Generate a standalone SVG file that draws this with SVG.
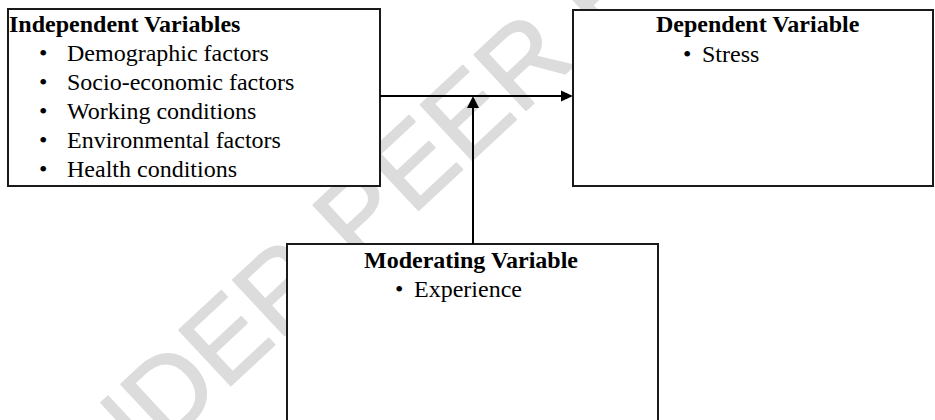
<svg xmlns="http://www.w3.org/2000/svg" width="935" height="420" viewBox="0 0 935 420">
<style>
.box{fill:#fff;stroke:#1a1a1a;stroke-width:2}
.h{font-family:"Liberation Serif","Times New Roman",serif;font-size:24px;font-weight:bold;fill:#000}
.t{font-family:"Liberation Serif","Times New Roman",serif;font-size:24px;fill:#000}
.wm{font-family:"Liberation Sans",Arial,sans-serif;font-size:110px;fill:#dcdcdc;stroke:#dcdcdc;stroke-width:2;stroke-linejoin:round}
.ln{stroke:#000;stroke-width:2;fill:none}
.ah{fill:#000}
</style>
<rect width="935" height="420" fill="#fff"/>
<text class="wm" transform="translate(50,554) rotate(-43)">UNDER PEER REVIEW</text>
<g id="independent">
<rect class="box" x="8" y="9" width="372" height="177"/>
<text class="h" x="9" y="32">Independent Variables</text>
<text class="t" x="39" y="61">•</text><text class="t" x="67" y="61">Demographic factors</text>
<text class="t" x="39" y="90">•</text><text class="t" x="67" y="90">Socio-economic factors</text>
<text class="t" x="39" y="119">•</text><text class="t" x="67" y="119">Working conditions</text>
<text class="t" x="39" y="148">•</text><text class="t" x="67" y="148">Environmental factors</text>
<text class="t" x="39" y="177">•</text><text class="t" x="67" y="177">Health conditions</text>
</g>
<g id="dependent">
<rect class="box" x="573" y="10" width="360" height="176"/>
<text class="h" x="656" y="32">Dependent Variable</text>
<text class="t" x="683" y="62">•</text><text class="t" x="702" y="62">Stress</text>
</g>
<g id="moderating">
<rect class="box" x="287" y="244" width="371" height="200"/>
<text class="h" x="471" y="268" text-anchor="middle">Moderating Variable</text>
<text class="t" x="395" y="297">•</text><text class="t" x="414" y="297">Experience</text>
</g>
<g id="connectors">
<line class="ln" x1="380" y1="96" x2="562" y2="96"/>
<polygon class="ah" points="573,96 561,90.5 561,101.5"/>
<line class="ln" x1="473" y1="244" x2="473" y2="107"/>
<polygon class="ah" points="473,96 467,108 479,108"/>
</g>
</svg>
